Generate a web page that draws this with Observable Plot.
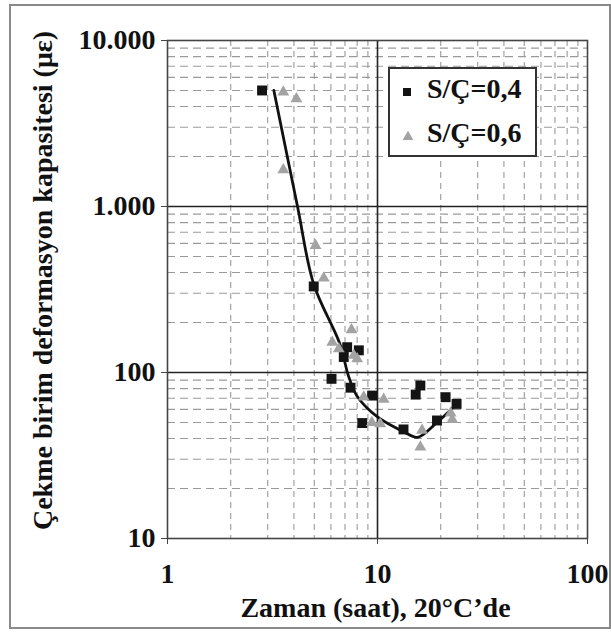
<!DOCTYPE html>
<html><head><meta charset="utf-8">
<script src="https://cdn.jsdelivr.net/npm/d3@7"></script>
<script src="https://cdn.jsdelivr.net/npm/@observablehq/plot@0.6"></script>
<style>
body{margin:0;background:#fff;}
#wrap{position:relative;width:611px;height:632px;}
#border{position:absolute;left:9px;top:4px;width:598px;height:621px;border:2px solid #8a8a8a;pointer-events:none;}
#legend{position:absolute;left:388px;top:67px;}
</style>
</head><body>
<div id="wrap"><div id="border"></div></div>
<script>
// Axis ticks
const xTicks = [1, 10, 100];
const xTickLabels = ["1", "10", "100"];
const yTicks = [10, 100, 1000, 10000];
const yTickLabels = ["10", "100", "1.000", "10.000"];
const xMajor = [10];
const yMajor = [100, 1000];
const xMinor = [2, 3, 4, 5, 6, 7, 8, 9, 20, 30, 40, 50, 60, 70, 80, 90];
const yMinor = [20, 30, 40, 50, 60, 70, 80, 90, 200, 300, 400, 500, 600, 700, 800, 900, 2000, 3000, 4000, 5000, 6000, 7000, 8000, 9000];

// S/Ç = 0,4 (squares)
const sq04X = [2.82, 4.97, 7.17, 8.15, 6.91, 6.04, 7.44, 9.43, 8.46, 13.3, 15.2, 16.0, 19.2, 21.1, 23.8];
const sq04Y = [5000, 330, 142, 136, 124, 91.6, 81, 72.6, 49.6, 45.4, 73.6, 83.5, 51.4, 71, 64.7];
// S/Ç = 0,6 (triangles)
const tr06X = [3.56, 4.11, 3.56, 5.07, 5.55, 6.09, 7.52, 6.54, 7.71, 8.0, 8.6, 10.7, 10.3, 9.4, 16.3, 16.0, 22.3, 22.7];
const tr06Y = [4890, 4457, 1664, 582, 371, 152, 181, 139, 127, 121, 71, 69, 49, 50, 44.8, 35.5, 57, 52];
// trend curve
const fitX = [3.21, 4.16, 4.97, 6.6, 7.3, 8.0, 10, 13.3, 15.5, 19.2, 24];
const fitY = [5000, 1000, 340, 150, 94, 72, 54, 44, 40.7, 50, 65];

const seriesNames = ["S/Ç=0,4", "S/Ç=0,6"];
const xLabel = "Zaman (saat), 20°C’de";
const yLabel = "Çekme birim deformasyon kapasitesi (με)";

const sq = sq04X.map((x, i) => ({x, y: sq04Y[i]}));
const tr = tr06X.map((x, i) => ({x, y: tr06Y[i]}));
const fit = fitX.map((x, i) => ({x, y: fitY[i]}));

const font = "'Liberation Serif', 'Times New Roman', serif";

const chart = Plot.plot({
  width: 611, height: 632,
  marginLeft: 167, marginRight: 24, marginTop: 40, marginBottom: 94,
  x: {type: "log", domain: [1, 100]},
  y: {type: "log", domain: [10, 10000]},
  style: {fontFamily: font, fontSize: "28px", fontWeight: "bold", color: "#111", background: "transparent"},
  marks: [
    Plot.ruleX(xMinor, {stroke: "#9a9a9a", strokeWidth: 1.1, strokeDasharray: "6,5"}),
    Plot.ruleY(yMinor, {stroke: "#9a9a9a", strokeWidth: 1.1, strokeDasharray: "8,5"}),
    Plot.ruleX(xMajor, {stroke: "#222", strokeWidth: 1.6}),
    Plot.ruleY(yMajor, {stroke: "#222", strokeWidth: 1.6}),
    Plot.frame({stroke: "#444", strokeWidth: 1.6}),
    Plot.axisX({ticks: xTicks, tickFormat: d => xTickLabels[xTicks.indexOf(d)], tickSize: 6, tickPadding: 19, label: null, stroke: "#444"}),
    Plot.axisY({ticks: yTicks, tickFormat: d => yTickLabels[yTicks.indexOf(d)], tickSize: 6, tickPadding: 6, label: null, stroke: "#444"}),
    Plot.line(fit, {x: "x", y: "y", curve: "catmull-rom", stroke: "#111", strokeWidth: 2.8}),
    Plot.dot(sq, {x: "x", y: "y", symbol: "square", fill: "#141414", r: 5.6}),
    Plot.dot(tr, {x: "x", y: "y", symbol: "triangle", fill: "#a3a3a3", r: 4.4}),
    Plot.text([yLabel], {text: d => d, frameAnchor: "left", textAnchor: "middle", lineAnchor: "middle", rotate: -90, dx: -124, dy: -9, fontSize: 28, fontWeight: "bold", fill: "#111"}),
    Plot.text([xLabel], {text: d => d, frameAnchor: "bottom", textAnchor: "middle", lineAnchor: "middle", dx: -2, dy: 70, fontSize: 28, fontWeight: "bold", fill: "#111"})
  ]
});
document.getElementById("wrap").appendChild(chart);

// Legend overlay
const lg = d3.select("#wrap").append("svg").attr("id", "legend").attr("width", 150).attr("height", 91)
  .style("font-family", font).style("font-weight", "bold").style("font-size", "28px");
lg.append("rect").attr("x", 1).attr("y", 1).attr("width", 147).attr("height", 88).attr("fill", "#fff").attr("stroke", "#333").attr("stroke-width", 2);
lg.append("path").attr("d", d3.symbol(d3.symbolSquare, 64)()).attr("transform", "translate(19,25)").attr("fill", "#141414");
lg.append("path").attr("d", d3.symbol(d3.symbolTriangle, 50)()).attr("transform", "translate(20,70)").attr("fill", "#a3a3a3");
lg.append("text").attr("x", 39).attr("y", 31).attr("fill", "#111").text(seriesNames[0]);
lg.append("text").attr("x", 39).attr("y", 75).attr("fill", "#111").text(seriesNames[1]);
</script>
</body></html>
